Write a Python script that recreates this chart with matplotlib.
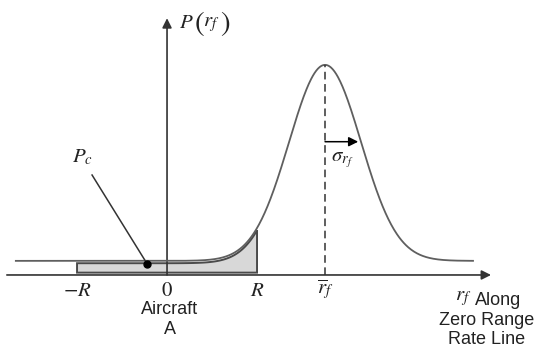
import numpy as np
import matplotlib
matplotlib.use("Agg")
import matplotlib.pyplot as plt

plt.rcParams["mathtext.fontset"] = "stix"

# miss-distance density along the zero range rate line
R = 1.0              # hard-body radius
r_mean = 1.756       # mean miss distance r_f
sigma = 0.40         # standard deviation of r_f
base = 0.072         # floor of the drawn density
x_start, x_end = -1.68, 3.4
dot_x = -0.22        # where P_c is pointed at

tick_pos = [-R, 0.0, R, r_mean]
tick_txt = [r"$-R$", r"$0$", r"$R$", r"$\overline{r}_f$"]

fig = plt.figure(figsize=(5.37, 3.52), dpi=100)
ax = fig.add_axes([0, 0, 1, 1])
ax.set_xlim(-1.856, 4.111)
ax.set_ylim(-0.393, 1.403)
ax.axis("off")

def density(x):
    return base + np.exp(-(x - r_mean) ** 2 / (2 * sigma ** 2))

axis_col = "#333333"
curve_col = "#5f5f5f"
text_col = "#222222"

# axes with arrow heads
ax.annotate("", xy=(3.6, 0), xytext=(-1.78, 0),
            arrowprops=dict(arrowstyle="-|>", color=axis_col, lw=1.2,
                            mutation_scale=14, shrinkA=0, shrinkB=0))
ax.annotate("", xy=(0, 1.31), xytext=(0, 0),
            arrowprops=dict(arrowstyle="-|>", color=axis_col, lw=1.2,
                            mutation_scale=14, shrinkA=0, shrinkB=0))

# shaded collision probability region between -R and R
xs = np.linspace(-R, R, 200)
top = density(xs) - 0.012
poly_x = np.concatenate([[-R], xs, [R, -R]])
poly_y = np.concatenate([[0.012], top, [0.012, 0.012]])
ax.fill(poly_x, poly_y, facecolor="#d8d8d8", edgecolor="#4a4a4a", lw=1.4, zorder=2)

# the density curve
xc = np.linspace(x_start, x_end, 800)
ax.plot(xc, density(xc), color=curve_col, lw=1.3, zorder=3)

# mean line and sigma arrow
ax.plot([r_mean, r_mean], [0, density(r_mean)], color=axis_col, lw=1.1,
        ls=(0, (5, 3)), zorder=3)
ax.annotate("", xy=(r_mean + sigma * 0.92, 0.68), xytext=(r_mean, 0.68),
            arrowprops=dict(arrowstyle="-|>", color="black", lw=1.1,
                            mutation_scale=14, shrinkA=0, shrinkB=0))
ax.text(r_mean + 0.07, 0.585, r"$\sigma_{r_f}$", fontsize=15, ha="left", va="center",
        color=text_col)

# P_c pointer
ax.plot([-0.833, dot_x], [0.51, 0.056], color=axis_col, lw=1.1, zorder=4)
ax.plot(dot_x, 0.056, "o", color="black", ms=5, zorder=5)
ax.text(-1.06, 0.60, r"$P_c$", fontsize=15, ha="left", va="center", color=text_col)

# tick labels under the axis
for p, t in zip(tick_pos, tick_txt):
    ax.text(p, -0.075, t, fontsize=15, ha="center", va="center", color=text_col)

sans = dict(fontsize=13, family="Liberation Sans", color=text_col, va="center")
ax.text(0.03, -0.178, "Aircraft", ha="center", **sans)
ax.text(0.03, -0.28, "A", ha="center", **sans)

# y label P(r_f) with tall parentheses
ylab = dict(color=text_col, ha="center", va="center")
ax.text(0.21, 1.29, r"$P$", fontsize=15, **ylab)
ax.text(0.355, 1.285, r"$($", fontsize=21, **ylab)
ax.text(0.49, 1.28, r"$r_f$", fontsize=15, **ylab)
ax.text(0.65, 1.285, r"$)$", fontsize=21, **ylab)

ax.text(3.29, -0.12, r"$r_f$", fontsize=15, ha="center", va="center", color=text_col)
ax.text(3.42, -0.13, "Along", ha="left", **sans)
ax.text(3.55, -0.23, "Zero Range", ha="center", **sans)
ax.text(3.55, -0.33, "Rate Line", ha="center", **sans)

fig.savefig("out.png", dpi=100)
